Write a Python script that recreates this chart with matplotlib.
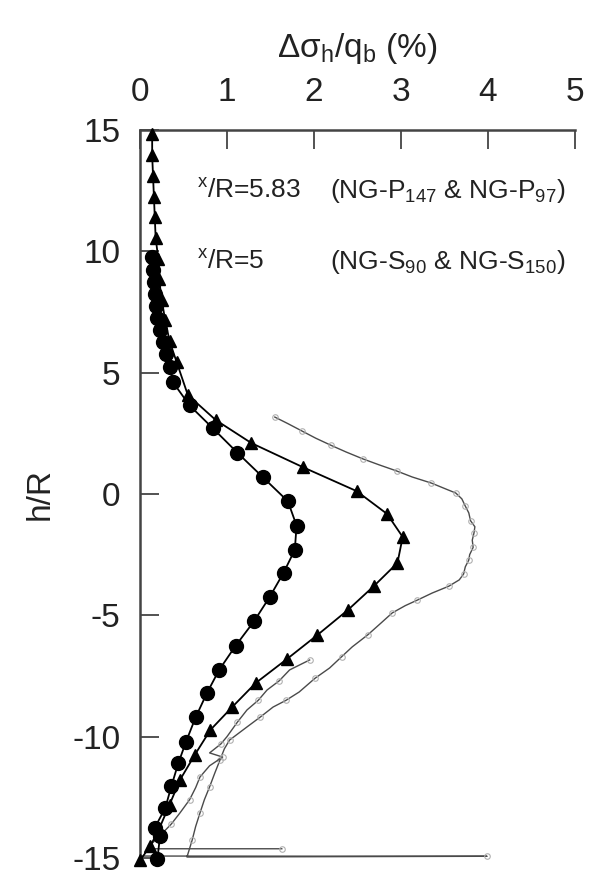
import matplotlib
matplotlib.use("Agg")
import matplotlib.pyplot as plt

plt.rcParams['font.family'] = ['Liberation Sans', 'DejaVu Sans']
plt.rcParams['mathtext.fontset'] = 'custom'
plt.rcParams['mathtext.rm'] = 'Liberation Sans'
plt.rcParams['mathtext.it'] = 'Liberation Sans:italic'
plt.rcParams['mathtext.bf'] = 'Liberation Sans:bold'
plt.rcParams['axes.unicode_minus'] = False

# ---- data (x = stress increase %, h = h/R) ----
circ_h = [9.75, 9.25, 8.75, 8.25, 7.75, 7.25, 6.75, 6.25, 5.75, 5.25,
          4.6, 3.65, 2.7, 1.7, 0.7, -0.3, -1.3, -2.3, -3.25, -4.25, -5.25,
          -6.25, -7.25, -8.2, -9.2, -10.2, -11.1, -12.05, -12.95, -13.75,
          -14.1, -15.05]
circ_x = [0.14, 0.15, 0.16, 0.17, 0.18, 0.20, 0.23, 0.26, 0.30, 0.34,
          0.38, 0.57, 0.84, 1.12, 1.41, 1.70, 1.80, 1.78, 1.65, 1.49, 1.31,
          1.10, 0.91, 0.77, 0.64, 0.53, 0.44, 0.36, 0.29, 0.17,
          0.23, 0.20]

tri_h = [14.85, 13.95, 13.1, 12.25, 11.4, 10.55, 9.7, 8.85, 8.0, 7.15,
         6.3, 5.45, 4.08, 3.05, 2.1, 1.11, 0.12, -0.82, -1.77, -2.84,
         -3.79, -4.78, -5.81, -6.8, -7.79, -8.78, -9.72, -10.75, -11.78,
         -12.8, -13.8, -14.5, -15.1]
tri_x = [0.14, 0.14, 0.15, 0.16, 0.17, 0.18, 0.21, 0.22, 0.25, 0.29,
         0.34, 0.42, 0.55, 0.87, 1.28, 1.87, 2.49, 2.84, 3.02, 2.96,
         2.69, 2.39, 2.04, 1.69, 1.33, 1.06, 0.81, 0.63, 0.46,
         0.34, 0.22, 0.12, 0.0]

thinA_h = [3.17, 2.9, 2.6, 2.3, 2.0, 1.73, 1.45, 1.2, 0.95, 0.7, 0.45, 0.2,
           0.04, -0.2, -0.5, -0.78, -1.1, -1.35, -1.6, -1.9, -2.2, -2.5,
           -2.72, -3.0, -3.3, -3.54, -3.8, -4.08, -4.37, -4.6, -4.9, -5.32,
           -5.8, -6.3, -6.7, -7.17, -7.6, -8.16, -8.5, -8.78, -9.2, -9.6,
           -10.14, -10.5, -10.96, -11.5, -12.07, -12.6, -13.14, -13.7,
           -14.26, -14.96, -14.93, -14.92]
thinA_x = [1.55, 1.70, 1.86, 2.02, 2.20, 2.37, 2.56, 2.75, 2.95, 3.13, 3.35,
           3.52, 3.63, 3.70, 3.74, 3.78, 3.80, 3.85, 3.84, 3.82, 3.83, 3.79,
           3.78, 3.74, 3.72, 3.67, 3.55, 3.36, 3.19, 3.05, 2.90, 2.77,
           2.62, 2.44, 2.32, 2.18, 2.01, 1.83, 1.68, 1.53, 1.38, 1.23,
           1.03, 0.97, 0.92, 0.86, 0.80, 0.74, 0.69, 0.64,
           0.60, 0.54, 3.99, 0.03]

thinB_h = [-6.84, -7.25, -7.7, -8.08, -8.5, -8.9, -9.4, -10.0, -10.3, -10.67,
           -10.84, -11.2, -11.66, -12.1, -12.6, -13.14, -13.6, -13.97, -14.5,
           -14.62, -14.62]
thinB_x = [1.95, 1.72, 1.60, 1.46, 1.36, 1.23, 1.12, 1.00, 0.93, 0.80,
           0.95, 0.80, 0.69, 0.64, 0.57, 0.46, 0.36, 0.26, 0.11,
           0.15, 1.63]

xticks = [0, 1, 2, 3, 4, 5]
yticks = [-15, -10, -5, 0, 5, 10, 15]

fig = plt.figure(figsize=(5.97, 8.88), dpi=100)
ax = fig.add_axes([0.2345, 0.0338, 0.963 - 0.2345, 0.8536 - 0.0338])

ax.plot(thinA_x, thinA_h, color='#4a4a4a', lw=1.0, marker='o', ms=4,
        mfc='none', mec='#b0b0b0', mew=0.8, markevery=2, clip_on=False, zorder=2)
ax.plot(thinB_x, thinB_h, color='#4a4a4a', lw=1.0, marker='o', ms=4,
        mfc='none', mec='#b0b0b0', mew=0.8, markevery=2, clip_on=False, zorder=2)
ax.plot(tri_x, tri_h, color='black', lw=1.3, marker='^', ms=8,
        clip_on=False, zorder=3)
ax.plot(circ_x, circ_h, color='black', lw=1.3, marker='o', ms=10,
        clip_on=False, zorder=4)

ax.set_xlim(0, 5)
ax.set_ylim(-15, 15)
ax.set_xticks(xticks)
ax.set_yticks(yticks)
ax.xaxis.tick_top()
ax.xaxis.set_label_position('top')
ax.spines['right'].set_visible(False)
ax.spines['bottom'].set_visible(False)
for s in ('top', 'left'):
    ax.spines[s].set_linewidth(1.8)
    ax.spines[s].set_color('#444444')
ax.tick_params(axis='x', direction='in', length=14, width=1.3, pad=16,
               labelsize=24, colors='#444444', labelcolor='#222222')
ax.tick_params(axis='y', direction='in', length=14, width=1.3, pad=14,
               labelsize=24, colors='#444444', labelcolor='#222222')
ax.set_xlabel('Δσ$_\\mathrm{h}$/q$_\\mathrm{b}$ (%)', fontsize=24, labelpad=14,
              color='#222222')
ax.set_ylabel('h/R', fontsize=24, labelpad=12, color='#222222')

ax.text(0.65, 12.5, '$^\\mathrm{x}$/R=5.83', fontsize=19, va='center', ha='left',
        color='#222222')
ax.text(2.18, 12.5, '(NG-P$_{147}$ & NG-P$_{97}$)', fontsize=19, va='center',
        ha='left', color='#222222')
ax.text(0.65, 9.55, '$^\\mathrm{x}$/R=5', fontsize=19, va='center', ha='left',
        color='#222222')
ax.text(2.18, 9.55, '(NG-S$_{90}$ & NG-S$_{150}$)', fontsize=19, va='center',
        ha='left', color='#222222')

fig.savefig('out.png', dpi=100)
